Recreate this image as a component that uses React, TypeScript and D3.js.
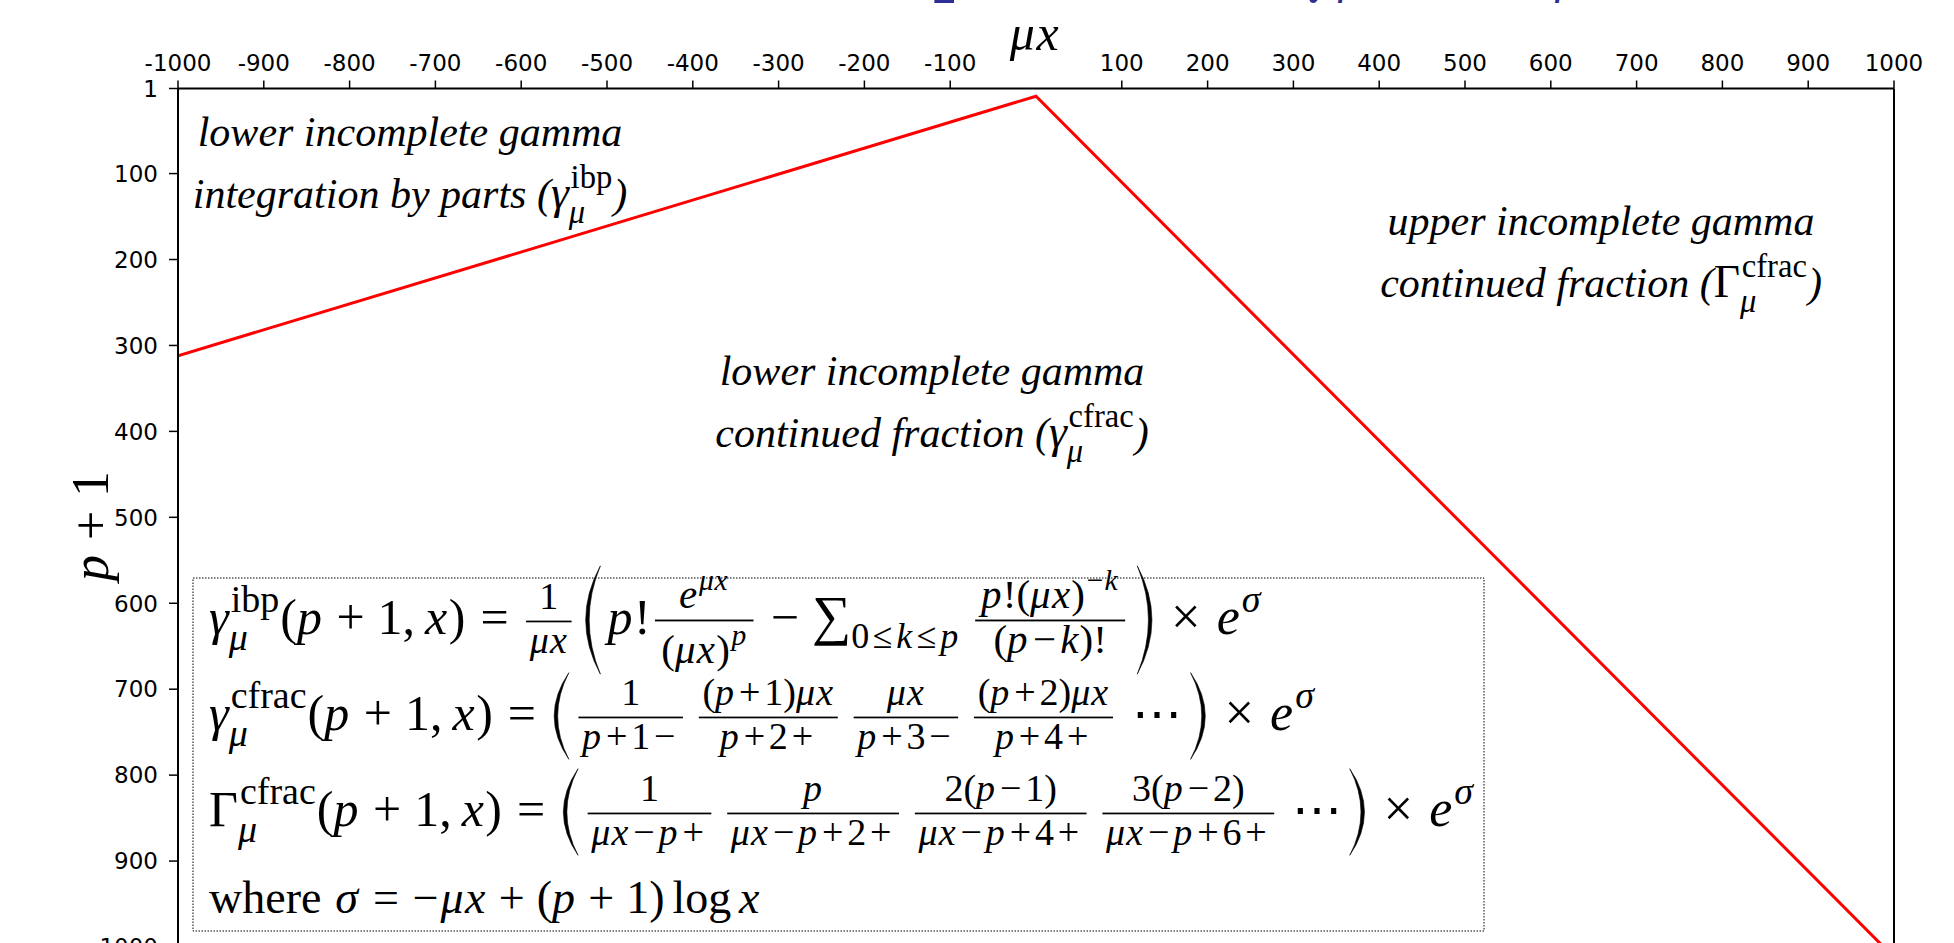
import React, { useMemo } from "react";
import * as d3 from "d3";

// axis ticks
const xTicks = [-1000, -900, -800, -700, -600, -500, -400, -300, -200, -100, 100, 200, 300, 400, 500, 600, 700, 800, 900, 1000];
const yTicks = [1, 100, 200, 300, 400, 500, 600, 700, 800, 900, 1000];

// boundary between the three methods (mu*x, p+1)
const boundaryMuX = [-1000, 0, 1000];
const boundaryP1 = [312, 10, 1012];

const W = 1954, H = 943;
const plot = { left: 178, right: 1894, top: 88.5, bottom: 947 };

const MATH = "'Liberation Serif', 'DejaVu Serif', serif";
const ANN = "'Liberation Serif', serif";
const SANS = "'DejaVu Sans', sans-serif";

let ctx: CanvasRenderingContext2D | null = null;
const measure = (s: string, font: string) => {
  if (!ctx) ctx = document.createElement("canvas").getContext("2d");
  ctx!.font = font;
  return ctx!.measureText(s).width;
};

type Out = React.ReactNode[];
type Box = { w: number; a: number; d: number; r: (x: number, y: number, o: Out) => void };

const glyph = (s: string, size: number, italic: boolean, fam = MATH): Box => ({
  w: measure(s, `${italic ? "italic " : ""}${size}px ${fam}`),
  a: size * 0.7,
  d: size * 0.2,
  r: (x, y, o) =>
    o.push(
      <text key={o.length} x={x} y={y} fontFamily={fam} fontSize={size} fontStyle={italic ? "italic" : "normal"}>
        {s}
      </text>
    ),
});

const space = (w: number): Box => ({ w, a: 0, d: 0, r: () => {} });

const row = (...bs: Box[]): Box => ({
  w: d3.sum(bs, (b) => b.w),
  a: d3.max(bs, (b) => b.a) ?? 0,
  d: d3.max(bs, (b) => b.d) ?? 0,
  r: (x, y, o) => {
    let cx = x;
    bs.forEach((b) => {
      b.r(cx, y, o);
      cx += b.w;
    });
  },
});

// tiny math string parser: letters italic, the rest upright
const m = (s: string, size: number, tight = false): Box => {
  const parts: Box[] = [];
  let prevOp = true;
  for (const c of s) {
    if (c === " ") continue;
    if ("+−=×≤".includes(c)) {
      const sp = tight ? size * 0.1 : c === "=" ? size * 0.3 : size * 0.26;
      if (prevOp && c === "−") parts.push(glyph(c, size, false), space(size * 0.04));
      else parts.push(space(sp), glyph(c, size, false), space(sp));
      prevOp = true;
      continue;
    }
    if (c === ",") parts.push(glyph(c, size, false), space(size * 0.2));
    else if (/[a-zα-ω]/.test(c)) parts.push(glyph(c, size, true), space(size * 0.03));
    else parts.push(glyph(c, size, false));
    prevOp = c === "(";
  }
  return row(...parts);
};

const scripts = (base: Box, size: number, sup?: Box, sub?: Box, dn?: number): Box => {
  const up = size * 0.44;
  const down = dn ?? (sup ? size * 0.32 : size * 0.22);
  const sw = Math.max(sup?.w ?? 0, sub?.w ?? 0);
  return {
    w: base.w + sw + size * 0.06,
    a: Math.max(base.a, sup ? up + sup.a : 0),
    d: Math.max(base.d, sub ? down + sub.d : 0),
    r: (x, y, o) => {
      base.r(x, y, o);
      sup?.r(x + base.w + size * 0.04, y - up, o);
      sub?.r(x + base.w, y + down, o);
    },
  };
};

const frac = (num: Box, den: Box, size: number, padMul = 0.16, gapMul = 0.1): Box => {
  const axis = size * 0.33, th = Math.max(1.3, size * 0.045), gap = size * gapMul, pad = size * padMul;
  const w = Math.max(num.w, den.w) + 2 * pad;
  const nUp = axis + th / 2 + gap + num.d;
  const dDn = -axis + th / 2 + gap + den.a;
  return {
    w,
    a: nUp + num.a,
    d: dDn + den.d,
    r: (x, y, o) => {
      num.r(x + (w - num.w) / 2, y - nUp, o);
      den.r(x + (w - den.w) / 2, y + dDn, o);
      o.push(<rect key={o.length} x={x + pad * 0.4} y={y - axis - th / 2} width={w - pad * 0.8} height={th} fill="#000" />);
    },
  };
};

const paren = (left: boolean, a: number, d: number, size: number): Box => {
  const w = size * 0.42;
  return {
    w,
    a,
    d,
    r: (x, y, o) => {
      const top = y - a, bot = y + d, mid = (top + bot) / 2;
      const th = size * 0.07;
      const xe = left ? x + w * 0.85 : x + w * 0.15;
      const xc = left ? x - w * 0.55 : x + w * 1.55;
      const xi = left ? xc + 2 * th : xc - 2 * th;
      o.push(
        <path key={o.length} d={`M${xe},${top} Q${xc},${mid} ${xe},${bot} Q${xi},${mid} ${xe},${top} Z`} fill="#000" stroke="#000" strokeWidth={0.6} />
      );
    },
  };
};

const delim = (inner: Box, size: number): Box => {
  const axis = size * 0.28;
  const ext = Math.max(inner.a - axis, inner.d + axis) + size * 0.06;
  const a = axis + ext, d = ext - axis;
  return row(paren(true, a, d, size), space(size * 0.08), inner, space(size * 0.1), paren(false, a, d, size));
};

const S = 50; // main math size
const F = 38; // fraction parts
const F1 = 41; // fraction parts, first formula
const R4 = 46; // last line
const A = 42; // annotation text
const SC = 0.72; // script shrink

const gammaSym = (g: string, sup: string, size: number, upright = false, k = 0.76) =>
  scripts(glyph(g, size, !upright), size, glyph(sup, size * k, false), glyph("μ", size * k, true));
const eSigma = () => scripts(glyph("e", S * 1.04, true), S, glyph("σ", S * 0.76, true));
const times = () => row(space(S * 0.32), glyph("×", S * 1.05, false), space(S * 0.32));

const buildFormulas = (): Box[] => {
  const r1 = row(
    gammaSym("γ", "ibp", S),
    m("(p+1,x)=", S),
    frac(m("1", F), m("μx", F), F),
    space(S * 0.17),
    delim(
      row(
        m("p!", S),
        frac(
          scripts(glyph("e", F1, true), F1, m("μx", F1 * SC, true)),
          scripts(m("(μx)", F1), F1, glyph("p", F1 * SC, true)),
          F1,
          0.26,
          0.07
        ),
        space(S * 0.26),
        glyph("−", S, false),
        space(S * 0.26),
        scripts(glyph("∑", S * 1.1, false), S, undefined, m("0≤k≤p", S * SC, true), S * 0.28),
        space(S * 0.18),
        frac(scripts(m("p!(μx)", F1), F1, m("−k", F1 * SC, true)), m("(p−k)!", F1, true), F1, 0.24, 0.07)
      ),
      S
    ),
    times(),
    eSigma()
  );
  const sp = () => space(S * 0.22);
  const r2 = row(
    gammaSym("γ", "cfrac", S),
    m("(p+1,x)=", S),
    delim(
      row(
        frac(m("1", F), m("p+1−", F, true), F),
        sp(),
        frac(m("(p+1)μx", F, true), m("p+2+", F, true), F),
        sp(),
        frac(m("μx", F), m("p+3−", F, true), F),
        sp(),
        frac(m("(p+2)μx", F, true), m("p+4+", F, true), F),
        space(S * 0.34),
        glyph("⋯", S, false)
      ),
      S
    ),
    times(),
    eSigma()
  );
  const r3 = row(
    gammaSym("Γ", "cfrac", S, true),
    m("(p+1,x)=", S),
    delim(
      row(
        frac(m("1", F), m("μx−p+", F, true), F),
        sp(),
        frac(m("p", F), m("μx−p+2+", F, true), F),
        sp(),
        frac(m("2(p−1)", F, true), m("μx−p+4+", F, true), F),
        sp(),
        frac(m("3(p−2)", F, true), m("μx−p+6+", F, true), F),
        space(S * 0.3),
        glyph("⋯", S, false)
      ),
      S
    ),
    times(),
    eSigma()
  );
  const r4 = row(
    glyph("where", R4, false),
    space(R4 * 0.3),
    m("σ=−μx+(p+1)", R4),
    space(R4 * 0.17),
    glyph("log", R4, false),
    space(R4 * 0.17),
    glyph("x", R4, true)
  );
  return [r1, r2, r3, r4];
};

const annot = (lead: string, g: string, sup: string, upright = false) =>
  row(glyph(lead, A, true, ANN), gammaSym(g, sup, A * 1.08, upright, 0.72), glyph(")", A, true, ANN));

const App = () => {
  const x = d3.scaleLinear().domain([-1000, 1000]).range([plot.left, plot.right]);
  const y = d3.scaleLinear().domain([1, 1000]).range([plot.top, plot.bottom]);
  const line = d3
    .line<number>()
    .x((_, i) => x(boundaryMuX[i]))
    .y((d) => y(d));

  const math = useMemo(() => {
    const o: Out = [];
    const rows = buildFormulas();
    const baselines = [634, 730, 826, 913];
    rows.forEach((b, i) => b.r(209, baselines[i], o));

    const labels: { lines: Box[]; cx: number; y0: number }[] = [
      { lines: [glyph("lower incomplete gamma", A, true, ANN), annot("integration by parts (", "γ", "ibp")], cx: 410, y0: 146 },
      { lines: [glyph("lower incomplete gamma", A, true, ANN), annot("continued fraction (", "γ", "cfrac")], cx: 932, y0: 385 },
      { lines: [glyph("upper incomplete gamma", A, true, ANN), annot("continued fraction (", "Γ", "cfrac", true)], cx: 1601, y0: 235 },
    ];
    labels.forEach((l) => l.lines.forEach((b, i) => b.r(l.cx - b.w / 2, l.y0 + i * 62, o)));

    const mux = m("μx", 50);
    mux.r(1035 - mux.w / 2, 50, o);

    const yl: Out = [];
    const p1 = m("p+1", 52);
    p1.r(-p1.w / 2, 15, yl);
    o.push(
      <g key="ylabel" transform="translate(93,526) rotate(-90)">
        {yl}
      </g>
    );
    return o;
  }, []);

  return (
    <svg width={W} height={H} style={{ position: "fixed", left: 0, top: 0, background: "#fff" }}>
      <defs>
        <clipPath id="plotclip">
          <rect x={plot.left} y={plot.top} width={plot.right - plot.left} height={plot.bottom - plot.top} />
        </clipPath>
      </defs>
      <rect width={W} height={H} fill="#fff" />

      {/* title, only its descenders fall inside the figure */}
      <text y={-9} fill="#2e2e96" fontFamily="'DejaVu Serif', serif" fontSize={60}>
        <tspan x={975} textAnchor="end" fontWeight="bold">
          Method map
        </tspan>
        <tspan x={1300} fontStyle="italic">
          γ
        </tspan>
        <tspan x={1336} dy={3} fontSize={42} fontStyle="italic">
          μ
        </tspan>
        <tspan x={1522} dy={-3}>
          Γ
        </tspan>
        <tspan x={1553} dy={3} fontSize={42} fontStyle="italic">
          μ
        </tspan>
      </text>

      <path d={line(boundaryP1) ?? ""} fill="none" stroke="#ff0000" strokeWidth={3} clipPath="url(#plotclip)" />

      {/* spines */}
      <g stroke="#000" strokeWidth={2} fill="none">
        <line x1={plot.left} x2={plot.right} y1={plot.top} y2={plot.top} />
        <line x1={plot.left} x2={plot.left} y1={plot.top} y2={plot.bottom} />
        <line x1={plot.right} x2={plot.right} y1={plot.top} y2={plot.bottom} />
      </g>

      {/* top x axis */}
      <g fontFamily={SANS} fontSize={23} textAnchor="middle">
        {xTicks.map((t) => (
          <g key={t}>
            <line x1={x(t)} x2={x(t)} y1={plot.top} y2={plot.top - 8} stroke="#000" strokeWidth={1.5} />
            <text x={x(t)} y={71}>
              {String(t)}
            </text>
          </g>
        ))}
      </g>

      {/* left y axis */}
      <g fontFamily={SANS} fontSize={23} textAnchor="end">
        {yTicks.map((t) => (
          <g key={t}>
            <line x1={plot.left} x2={plot.left - 9} y1={y(t)} y2={y(t)} stroke="#000" strokeWidth={1.5} />
            <text x={158} y={y(t)} dy="0.36em">
              {String(t)}
            </text>
          </g>
        ))}
      </g>

      {/* formula box */}
      <rect x={193} y={578} width={1291} height={353} fill="#fff" stroke="#000" strokeWidth={1} strokeDasharray="1.5 1.5" />

      {math}
    </svg>
  );
};

export default App;
